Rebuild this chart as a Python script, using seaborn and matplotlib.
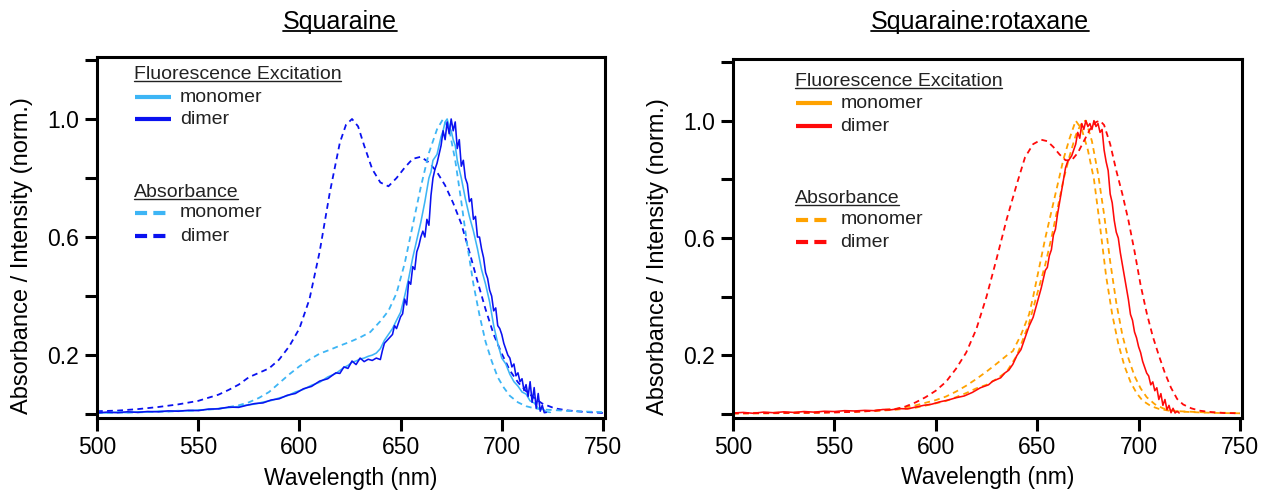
import matplotlib
matplotlib.use("Agg")
import matplotlib.pyplot as plt
import seaborn as sns
import numpy as np
from matplotlib.lines import Line2D

# ---------------- data ----------------
# Squaraine panel
sq_abs_dimer_wl = [500, 510, 520, 530, 540, 550, 560, 565, 570, 575, 580, 585, 590, 595, 600, 605, 610, 615, 620, 623, 626, 629, 632, 636, 640, 644, 648, 652, 656, 660, 664, 668, 672, 676, 680, 684, 688, 692, 696, 700, 704, 708, 712, 716, 720, 726, 732, 740, 750]
sq_abs_dimer = [0.010, 0.012, 0.017, 0.024, 0.033, 0.045, 0.066, 0.082, 0.100, 0.125, 0.140, 0.155, 0.185, 0.230, 0.290, 0.390, 0.550, 0.750, 0.920, 0.980, 1.000, 0.975, 0.910, 0.830, 0.785, 0.772, 0.800, 0.835, 0.865, 0.872, 0.853, 0.820, 0.775, 0.715, 0.645, 0.550, 0.450, 0.355, 0.270, 0.205, 0.148, 0.108, 0.078, 0.055, 0.036, 0.020, 0.013, 0.008, 0.004]

sq_abs_mono_wl = [500, 510, 520, 530, 540, 550, 560, 570, 575, 580, 585, 590, 595, 600, 605, 610, 615, 620, 625, 630, 635, 640, 644, 648, 652, 656, 660, 664, 668, 671, 674, 677, 680, 683, 686, 689, 692, 695, 698, 701, 704, 708, 712, 716, 720, 730, 740, 750]
sq_abs_mono = [0.004, 0.005, 0.006, 0.008, 0.010, 0.013, 0.018, 0.030, 0.040, 0.055, 0.075, 0.105, 0.135, 0.162, 0.185, 0.205, 0.218, 0.232, 0.245, 0.260, 0.278, 0.315, 0.350, 0.410, 0.510, 0.640, 0.770, 0.885, 0.965, 1.000, 0.965, 0.860, 0.720, 0.570, 0.440, 0.335, 0.245, 0.180, 0.125, 0.090, 0.062, 0.040, 0.027, 0.020, 0.016, 0.012, 0.009, 0.007]

sq_exc_mono_wl = [500, 505, 510, 515, 520, 525, 530, 535, 540, 545, 550, 555, 560, 565, 570, 574, 578, 582, 586, 590, 594, 598, 602, 606, 610, 614, 618, 622, 624, 626, 628, 630, 632, 634, 636, 638, 640, 642, 644, 646, 648, 650, 652, 654, 656, 658, 660, 662, 664, 665, 666, 668, 669, 670, 671, 672, 673, 674, 675, 676, 677, 678, 680, 682, 684, 686, 688, 690, 692, 694, 696, 698, 700, 702, 704, 706, 708, 710, 712, 714, 716, 718, 720, 722, 724]
sq_exc_mono = [0.006, 0.004, 0.007, 0.005, 0.008, 0.007, 0.010, 0.009, 0.012, 0.011, 0.014, 0.016, 0.019, 0.022, 0.026, 0.031, 0.034, 0.041, 0.046, 0.055, 0.062, 0.075, 0.084, 0.098, 0.108, 0.126, 0.138, 0.158, 0.165, 0.176, 0.180, 0.187, 0.190, 0.196, 0.200, 0.207, 0.222, 0.250, 0.270, 0.290, 0.318, 0.345, 0.400, 0.460, 0.530, 0.590, 0.650, 0.720, 0.800, 0.820, 0.860, 0.880, 0.910, 0.940, 0.960, 0.990, 1.000, 0.975, 0.960, 0.930, 0.910, 0.860, 0.800, 0.730, 0.670, 0.620, 0.560, 0.490, 0.440, 0.380, 0.300, 0.240, 0.190, 0.170, 0.135, 0.110, 0.095, 0.075, 0.068, 0.045, 0.038, 0.020, 0.018, 0.008, 0.006]

sq_exc_dimer_wl = [500, 505, 510, 515, 520, 525, 530, 535, 540, 545, 550, 555, 560, 565, 570, 574, 578, 582, 586, 590, 594, 598, 602, 606, 610, 614, 618, 620, 622, 624, 626, 628, 630, 632, 634, 636, 638, 640, 641, 642, 644, 646, 647, 648, 650, 651, 652, 653, 654, 655, 656, 657, 658, 659, 660, 661, 662, 663, 664, 665, 666, 667, 668, 669, 670, 671, 672, 673, 674, 675, 676, 677, 678, 679, 680, 681, 682, 683, 684, 685, 686, 687, 688, 689, 690, 691, 692, 693, 694, 695, 696, 697, 698, 699, 700, 701, 702, 703, 704, 705, 706, 707, 708, 709, 710, 711, 712, 713, 714, 715, 716, 717, 718, 719, 720, 721, 722]
sq_exc_dimer = [0.004, 0.007, 0.005, 0.008, 0.006, 0.009, 0.008, 0.011, 0.010, 0.013, 0.012, 0.017, 0.018, 0.024, 0.023, 0.030, 0.036, 0.038, 0.048, 0.052, 0.064, 0.070, 0.086, 0.094, 0.112, 0.120, 0.140, 0.138, 0.160, 0.155, 0.180, 0.168, 0.190, 0.178, 0.186, 0.182, 0.190, 0.185, 0.215, 0.240, 0.255, 0.270, 0.300, 0.290, 0.330, 0.340, 0.390, 0.370, 0.450, 0.440, 0.500, 0.490, 0.550, 0.570, 0.600, 0.620, 0.600, 0.660, 0.640, 0.740, 0.800, 0.830, 0.850, 0.880, 0.910, 0.960, 0.930, 0.990, 0.950, 1.000, 0.960, 0.990, 0.900, 0.930, 0.840, 0.860, 0.800, 0.780, 0.720, 0.730, 0.660, 0.670, 0.600, 0.600, 0.560, 0.530, 0.480, 0.460, 0.420, 0.400, 0.350, 0.360, 0.300, 0.290, 0.270, 0.240, 0.220, 0.200, 0.190, 0.160, 0.170, 0.130, 0.140, 0.110, 0.120, 0.080, 0.100, 0.060, 0.110, 0.040, 0.090, 0.020, 0.070, 0.010, 0.030, 0.005, 0.006]

# Squaraine:rotaxane panel
rot_abs_dimer_wl = [500, 520, 540, 550, 560, 570, 575, 580, 585, 590, 595, 600, 605, 610, 615, 620, 625, 630, 635, 640, 644, 648, 652, 655, 658, 661, 664, 667, 670, 673, 676, 679, 681, 683, 686, 689, 692, 695, 698, 701, 704, 707, 710, 713, 716, 719, 722, 726, 730, 736, 742, 750]
rot_abs_dimer = [0.003, 0.004, 0.005, 0.006, 0.008, 0.012, 0.015, 0.017, 0.026, 0.040, 0.058, 0.080, 0.110, 0.155, 0.210, 0.290, 0.400, 0.530, 0.665, 0.785, 0.875, 0.920, 0.935, 0.930, 0.910, 0.885, 0.865, 0.865, 0.890, 0.930, 0.970, 0.995, 1.000, 0.985, 0.920, 0.830, 0.750, 0.660, 0.555, 0.440, 0.345, 0.265, 0.200, 0.140, 0.090, 0.052, 0.033, 0.020, 0.012, 0.007, 0.004, 0.003]

rot_abs_mono_wl = [500, 520, 540, 560, 570, 580, 590, 600, 605, 610, 615, 620, 625, 630, 635, 638, 642, 646, 648, 651, 654, 657, 660, 663, 666, 669, 672, 675, 678, 681, 684, 687, 690, 693, 696, 699, 702, 706, 710, 715, 720, 730, 740, 750]
rot_abs_mono = [0.002, 0.003, 0.005, 0.008, 0.012, 0.018, 0.030, 0.048, 0.060, 0.077, 0.097, 0.120, 0.145, 0.172, 0.200, 0.215, 0.270, 0.340, 0.400, 0.500, 0.600, 0.690, 0.780, 0.870, 0.940, 1.000, 0.970, 0.900, 0.800, 0.640, 0.470, 0.340, 0.240, 0.165, 0.110, 0.072, 0.046, 0.028, 0.018, 0.012, 0.009, 0.006, 0.004, 0.003]

rot_exc_mono_wl = [500, 520, 540, 560, 570, 580, 590, 600, 605, 610, 615, 620, 625, 630, 635, 640, 646, 650, 654, 657, 660, 663, 666, 669, 672, 674, 677, 680, 683, 686, 689, 692, 695, 698, 701, 704, 708, 712, 716, 720, 730, 740, 750]
rot_exc_mono = [0.004, 0.005, 0.006, 0.009, 0.011, 0.015, 0.022, 0.037, 0.045, 0.058, 0.072, 0.088, 0.100, 0.120, 0.145, 0.200, 0.310, 0.410, 0.510, 0.600, 0.700, 0.800, 0.880, 0.950, 0.995, 1.000, 0.930, 0.820, 0.680, 0.520, 0.380, 0.270, 0.190, 0.130, 0.088, 0.058, 0.034, 0.020, 0.013, 0.010, 0.007, 0.005, 0.004]

rot_exc_dimer_wl = [500, 505, 510, 515, 520, 525, 530, 535, 540, 545, 550, 555, 560, 565, 570, 574, 578, 582, 586, 590, 594, 598, 602, 606, 610, 614, 618, 622, 626, 628, 630, 632, 634, 636, 638, 640, 642, 644, 646, 648, 650, 652, 654, 655, 656, 657, 658, 659, 660, 661, 662, 663, 664, 665, 666, 667, 668, 669, 670, 671, 672, 673, 674, 675, 676, 677, 678, 679, 680, 681, 682, 683, 684, 685, 686, 687, 688, 689, 690, 691, 692, 693, 694, 695, 696, 697, 698, 699, 700, 701, 702, 703, 704, 705, 706, 707, 708, 709, 710, 711, 712, 713, 714, 715, 716, 717, 718, 719, 720]
rot_exc_dimer = [0.004, 0.006, 0.003, 0.007, 0.005, 0.008, 0.006, 0.009, 0.007, 0.010, 0.009, 0.012, 0.011, 0.013, 0.012, 0.016, 0.015, 0.019, 0.018, 0.024, 0.030, 0.034, 0.042, 0.048, 0.056, 0.062, 0.074, 0.090, 0.100, 0.112, 0.118, 0.124, 0.140, 0.150, 0.170, 0.200, 0.220, 0.260, 0.300, 0.330, 0.380, 0.430, 0.490, 0.500, 0.540, 0.560, 0.610, 0.630, 0.680, 0.720, 0.760, 0.800, 0.840, 0.860, 0.870, 0.880, 0.900, 0.920, 0.960, 0.940, 0.990, 0.970, 1.000, 0.980, 0.990, 0.970, 1.000, 0.980, 0.990, 0.960, 0.970, 0.900, 0.860, 0.830, 0.750, 0.720, 0.660, 0.620, 0.600, 0.550, 0.510, 0.470, 0.430, 0.390, 0.340, 0.320, 0.280, 0.260, 0.230, 0.210, 0.180, 0.160, 0.140, 0.130, 0.100, 0.110, 0.080, 0.090, 0.050, 0.070, 0.030, 0.050, 0.015, 0.030, 0.005, 0.020, 0.004, 0.010, 0.004]

x_ticks = [500, 550, 600, 650, 700, 750]
y_ticks = [0.0, 0.2, 0.4, 0.6, 0.8, 1.0, 1.2]
y_ticklabels = ["", "0.2", "", "0.6", "", "1.0", ""]
titles = ["Squaraine", "Squaraine:rotaxane"]
legend_headers = ["Fluorescence Excitation", "Absorbance"]
legend_names = ["monomer", "dimer"]

# ---------------- style ----------------
sns.set_theme(style="ticks")
plt.rcParams['font.family'] = ['Liberation Sans', 'DejaVu Sans']
plt.rcParams['axes.linewidth'] = 2.2

LBLUE = '#3db5f5'
DBLUE = '#0a12f0'
ORANGE = '#ffa200'
RED = '#ff0a0a'

W, H = 1262, 492
fig = plt.figure(figsize=(W / 100, H / 100), dpi=100)

def px_axes(x0, x1, top, bottom):
    return [x0 / W, 1 - bottom / H, (x1 - x0) / W, (bottom - top) / H]

ax1 = fig.add_axes(px_axes(97, 605, 57, 418))
ax2 = fig.add_axes(px_axes(733, 1242, 59, 418))

DASH = (0, (3.2, 2.4))
lw_solid = 1.15
lw_dash = 1.3

# left panel
sns.lineplot(x=sq_abs_dimer_wl, y=sq_abs_dimer, ax=ax1, color=DBLUE, lw=lw_dash, linestyle=DASH, errorbar=None)
sns.lineplot(x=sq_abs_mono_wl, y=sq_abs_mono, ax=ax1, color=LBLUE, lw=lw_dash, linestyle=DASH, errorbar=None)
sns.lineplot(x=sq_exc_mono_wl, y=sq_exc_mono, ax=ax1, color=LBLUE, lw=lw_solid, errorbar=None)
sns.lineplot(x=sq_exc_dimer_wl, y=sq_exc_dimer, ax=ax1, color=DBLUE, lw=lw_solid, errorbar=None)

# right panel
sns.lineplot(x=rot_abs_mono_wl, y=rot_abs_mono, ax=ax2, color=ORANGE, lw=lw_dash, linestyle=DASH, errorbar=None)
sns.lineplot(x=rot_exc_mono_wl, y=rot_exc_mono, ax=ax2, color=ORANGE, lw=lw_dash, linestyle=DASH, errorbar=None)
sns.lineplot(x=rot_abs_dimer_wl, y=rot_abs_dimer, ax=ax2, color=RED, lw=lw_dash, linestyle=DASH, errorbar=None)
sns.lineplot(x=rot_exc_dimer_wl, y=rot_exc_dimer, ax=ax2, color=RED, lw=lw_solid, errorbar=None)

for ax in (ax1, ax2):
    ax.set_xlim(500, 751)
    ax.set_ylim(-0.013, 1.21)
    ax.set_xticks(x_ticks)
    ax.set_xticklabels([str(t) for t in x_ticks])
    ax.set_yticks(y_ticks)
    ax.set_yticklabels(y_ticklabels)
    ax.tick_params(axis='both', direction='out', length=9, width=2.2, labelsize=16.5, colors='black', pad=4)
    for s in ax.spines.values():
        s.set_visible(True)
        s.set_color('black')
        s.set_linewidth(2.2)
    ax.set_xlabel("Wavelength (nm)", fontsize=16.5, color='black')
    ax.set_ylabel("Absorbance / Intensity (norm.)", fontsize=17, color='black')
    ax.xaxis.set_label_coords(0.5, -0.135)
    ax.yaxis.set_label_coords(-0.126, 0.45)
    ax.grid(False)

# ---------------- legends (manual) ----------------
underline_texts = []

def legend_block(ax, x_line0, x_line1, x_text, y_head1, y_rows1, y_head2, y_rows2, c_mono, c_dim):
    t1 = ax.text(x_line0 - 0.003, y_head1, legend_headers[0], transform=ax.transAxes, fontsize=14, va='center', ha='left', color='#222222')
    underline_texts.append((t1, 1.0))
    for y, c, nm in zip(y_rows1, [c_mono, c_dim], legend_names):
        ax.add_line(Line2D([x_line0, x_line1], [y, y], transform=ax.transAxes, color=c, lw=3.0, solid_capstyle='butt'))
        ax.text(x_text, y, nm, transform=ax.transAxes, fontsize=14, va='center', ha='left', color='#222222')
    t2 = ax.text(x_line0 - 0.003, y_head2, legend_headers[1], transform=ax.transAxes, fontsize=14, va='center', ha='left', color='#222222')
    underline_texts.append((t2, 1.0))
    for y, c, nm in zip(y_rows2, [c_mono, c_dim], legend_names):
        ax.add_line(Line2D([x_line0, x_line1], [y, y], transform=ax.transAxes, color=c, lw=3.0, linestyle=(0, (2.9, 1.5)), dash_capstyle='butt'))
        ax.text(x_text, y, nm, transform=ax.transAxes, fontsize=14, va='center', ha='left', color='#222222')

legend_block(ax1, 0.075, 0.146, 0.163, 0.952, [0.889, 0.828], 0.625, [0.568, 0.504], LBLUE, DBLUE)
legend_block(ax2, 0.124, 0.195, 0.211, 0.938, [0.877, 0.813], 0.612, [0.552, 0.490], ORANGE, RED)

# titles
tt1 = fig.text(340 / W, 1 - 22 / H, titles[0], fontsize=18, ha='center', va='center', color='black')
tt2 = fig.text(980 / W, 1 - 22 / H, titles[1], fontsize=18, ha='center', va='center', color='black')
underline_texts.append((tt1, 1.3))
underline_texts.append((tt2, 1.3))

fig.canvas.draw()
renderer = fig.canvas.get_renderer()
for t, lw in underline_texts:
    bb = t.get_window_extent(renderer)
    y = bb.y0 + 0.12 * bb.height
    fig.add_artist(Line2D([bb.x0 / W, bb.x1 / W], [y / H, y / H], transform=fig.transFigure, color=t.get_color(), lw=lw))

fig.savefig("out.png", dpi=100, facecolor='white')
